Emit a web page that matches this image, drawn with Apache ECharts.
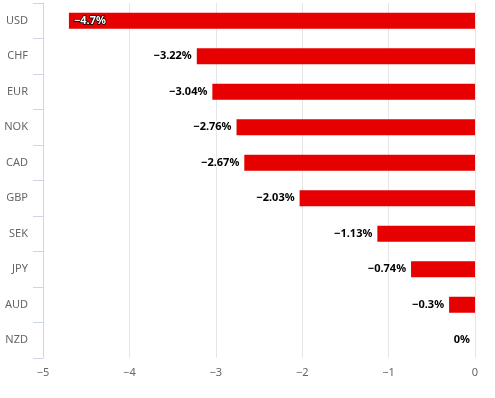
<!DOCTYPE html>
<html>
<head>
<meta charset="utf-8">
<script src="https://cdn.jsdelivr.net/npm/echarts@6/dist/echarts.min.js"></script>
<style>
html, body { margin: 0; padding: 0; background: #fff; }
#main { width: 495px; height: 398px; }
</style>
</head>
<body>
<div id="main"></div>
<script>
var chartDom = document.getElementById('main');
var myChart = echarts.init(chartDom, null, { renderer: 'canvas' });

var currencies = ['USD', 'CHF', 'EUR', 'NOK', 'CAD', 'GBP', 'SEK', 'JPY', 'AUD', 'NZD'];
var changes = [-4.7, -3.22, -3.04, -2.76, -2.67, -2.03, -1.13, -0.74, -0.3, 0];

function fmt(v) {
    return String(v).replace('-', '\u2212');
}

var barData = changes.map(function (v, i) {
    var item = { value: v };
    if (i === 0) {
        // label does not fit outside, so it sits inside the bar
        item.label = {
            position: 'insideLeft',
            distance: 5,
            color: '#fff',
            textBorderColor: '#000',
            textBorderWidth: 1.5
        };
    }
    return item;
});

var option = {
    animation: false,
    textStyle: { fontFamily: 'Noto Sans' },
    grid: { left: 43, right: 20, top: 3, bottom: 40, containLabel: false },
    xAxis: {
        type: 'value',
        min: -5,
        max: 0,
        interval: 1,
        axisLine: { show: false },
        axisTick: { show: false },
        splitLine: { lineStyle: { color: '#e6e6e6', width: 1 } },
        axisLabel: {
            color: '#666',
            fontSize: 11,
            margin: 9,
            formatter: function (v) { return fmt(v); }
        }
    },
    yAxis: {
        type: 'category',
        data: currencies,
        inverse: true,
        axisLine: { onZero: false, lineStyle: { color: '#ccd6eb' } },
        axisTick: { show: true, length: 10, lineStyle: { color: '#ccd6eb' } },
        axisLabel: { color: '#666', fontSize: 11, margin: 15 },
        splitLine: { show: false }
    },
    series: [
        {
            type: 'bar',
            data: barData,
            barWidth: 16,
            itemStyle: { color: '#e60000' },
            label: {
                show: true,
                position: 'left',
                distance: 5,
                fontSize: 11,
                fontWeight: 'bold',
                color: '#000',
                textBorderColor: '#fff',
                textBorderWidth: 2,
                formatter: function (p) { return fmt(p.value) + '%'; }
            }
        }
    ]
};

myChart.setOption(option);
</script>
</body>
</html>
